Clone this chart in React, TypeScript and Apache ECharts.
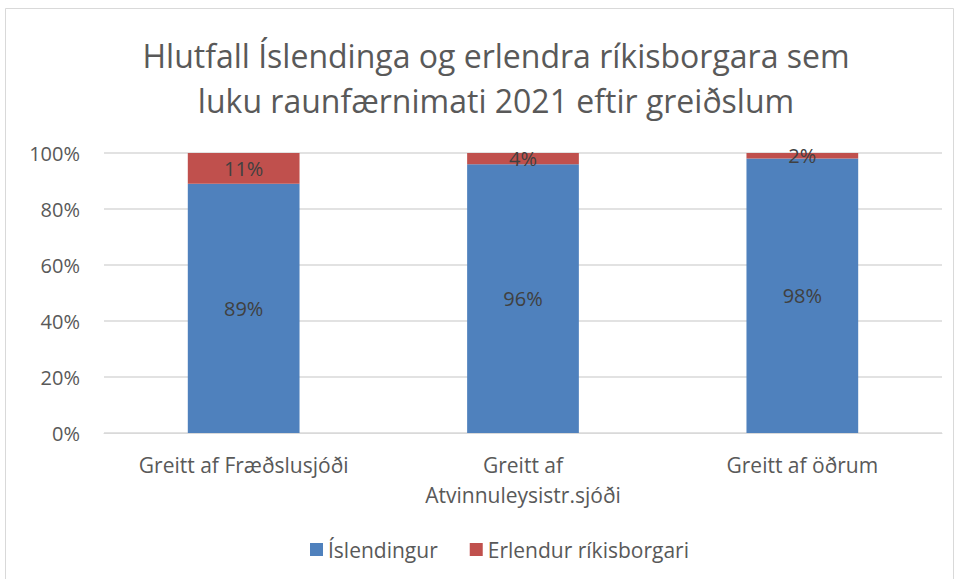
import React, { useEffect, useRef } from "react";
import * as echarts from "echarts";

const titleLines = ["Hlutfall Íslendinga og erlendra ríkisborgara sem", "luku raunfærnimati 2021 eftir greiðslum"];
const categories = ["Greitt af Fræðslusjóði", "Greitt af\nAtvinnuleysistr.sjóði", "Greitt af öðrum"];
const seriesNames = ["Íslendingur", "Erlendur ríkisborgari"];
const islendingur = [89, 96, 98];
const erlendur = [11, 4, 2];
const yTicks = [0, 20, 40, 60, 80, 100];

const FONT = "'Open Sans', sans-serif";

export default function App() {
  const ref = useRef<HTMLDivElement>(null);
  useEffect(() => {
    document.body.style.margin = "0";
    const chart = echarts.init(ref.current!, null, { renderer: "svg" });
    const label = {
      show: true,
      position: "inside",
      formatter: (p: any) => p.value + "%",
      color: "#404040",
      fontSize: 20,
      fontFamily: FONT,
    };
    chart.setOption({
      animation: false,
      backgroundColor: "#ffffff",
      textStyle: { fontFamily: FONT },
      title: {
        text: titleLines.join("\n"),
        left: 491,
        textAlign: "center",
        top: 28,
        textStyle: { fontSize: 32, fontWeight: "normal", color: "#595959", fontFamily: FONT, lineHeight: 45 },
      },
      grid: { left: 104, right: 18, top: 153, bottom: 146, containLabel: false },
      legend: {
        bottom: 14,
        left: 305,
        itemWidth: 13,
        itemHeight: 13,
        itemGap: 32,
        itemTextGap: 6,
        icon: "rect",
        textStyle: { fontSize: 21, color: "#595959", fontFamily: FONT },
        data: seriesNames,
      },
      xAxis: {
        type: "category",
        data: categories,
        axisLine: { show: true, lineStyle: { color: "#d9d9d9" } },
        axisTick: { show: false },
        axisLabel: { fontSize: 21, color: "#595959", margin: 17, lineHeight: 30, fontFamily: FONT, interval: 0 },
      },
      yAxis: {
        type: "value",
        min: 0,
        max: 100,
        interval: 20,
        axisLine: { show: false },
        axisTick: { show: false },
        splitLine: { lineStyle: { color: "#d9d9d9", width: 1.5 } },
        axisLabel: {
          fontSize: 20,
          color: "#595959",
          margin: 24,
          fontFamily: FONT,
          formatter: (v: number) => (yTicks.includes(v) ? v + "%" : ""),
        },
      },
      series: [
        {
          name: seriesNames[0],
          type: "bar",
          stack: "total",
          data: islendingur,
          barWidth: "40%",
          itemStyle: { color: "#4f81bd" },
          label,
        },
        {
          name: seriesNames[1],
          type: "bar",
          stack: "total",
          data: erlendur,
          barWidth: "40%",
          itemStyle: { color: "#c0504d" },
          label,
        },
      ],
      graphic: [
        {
          type: "rect",
          shape: { x: 5.5, y: 8.5, width: 948, height: 580 },
          style: { fill: "none", stroke: "#d9d9d9", lineWidth: 1 },
          silent: true,
        },
      ],
    });
    return () => chart.dispose();
  }, []);
  return <div ref={ref} style={{ width: 960, height: 579 }} />;
}
